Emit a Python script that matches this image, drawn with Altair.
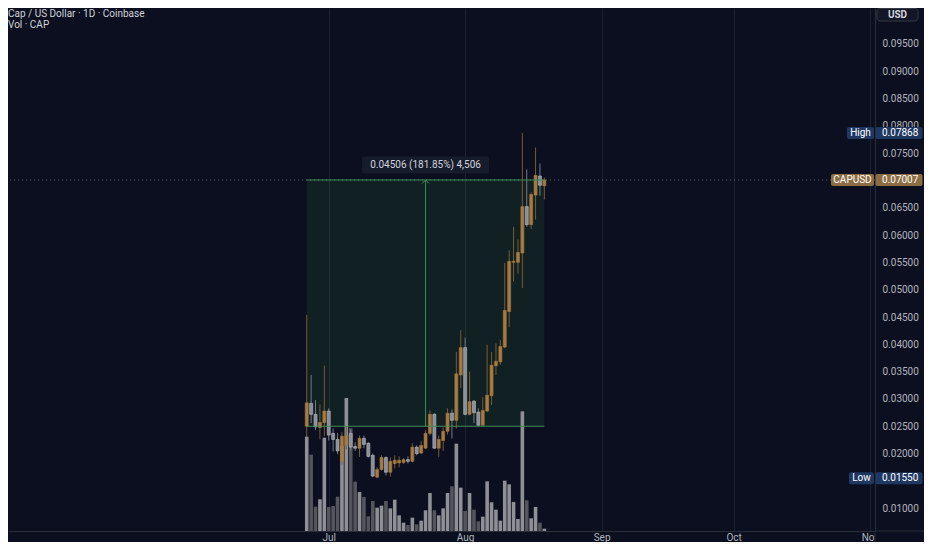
import altair as alt
import pandas as pd

# ---------------- data ----------------
dates = pd.date_range("2025-06-26", periods=55, freq="D")  # daily candles, Jun 26 .. Aug 19

opens = [0.02501, 0.02920, 0.02720, 0.02480, 0.02570, 0.02780, 0.02370, 0.02260, 0.01860, 0.02150,
         0.02370, 0.02130, 0.02100, 0.02280, 0.02190, 0.01970, 0.01570, 0.01710, 0.01930, 0.01660,
         0.01820, 0.01830, 0.01840, 0.01890, 0.01860, 0.02120, 0.02010, 0.02100, 0.02370, 0.02720,
         0.02100, 0.02240, 0.02410, 0.02740, 0.02610, 0.03440, 0.03940, 0.02720, 0.02960, 0.02760,
         0.02520, 0.02780, 0.03060, 0.03610, 0.03680, 0.03950, 0.04600, 0.05500, 0.05500, 0.05670,
         0.06520, 0.06190, 0.06730, 0.07080, 0.06900]
highs = [0.04540, 0.03440, 0.02980, 0.02900, 0.03610, 0.02830, 0.02460, 0.02380, 0.02400, 0.02500,
         0.02440, 0.02210, 0.02330, 0.02330, 0.02210, 0.02000, 0.01750, 0.01970, 0.01950, 0.01930,
         0.01970, 0.01950, 0.01920, 0.01950, 0.02190, 0.02150, 0.02230, 0.02430, 0.02790, 0.02740,
         0.02330, 0.02480, 0.02830, 0.02810, 0.03860, 0.04260, 0.04120, 0.03500, 0.02980, 0.02830,
         0.03030, 0.03990, 0.03860, 0.04020, 0.04080, 0.05490, 0.05720, 0.06150, 0.05920, 0.07868,
         0.07200, 0.06780, 0.07600, 0.07310, 0.07050]
lows = [0.02300, 0.02560, 0.02430, 0.02260, 0.02320, 0.02240, 0.02040, 0.01990, 0.01800, 0.02080,
        0.02060, 0.02050, 0.01940, 0.02100, 0.01930, 0.01570, 0.01550, 0.01690, 0.01600, 0.01580,
        0.01730, 0.01750, 0.01810, 0.01820, 0.01840, 0.01970, 0.02000, 0.02090, 0.02330, 0.02090,
        0.01940, 0.02050, 0.02350, 0.02280, 0.02460, 0.03200, 0.02700, 0.02700, 0.02560, 0.02500,
        0.02510, 0.02760, 0.02890, 0.03440, 0.03620, 0.03930, 0.04320, 0.05150, 0.05290, 0.05030,
        0.06150, 0.06110, 0.06280, 0.06720, 0.06650]
closes = [0.02930, 0.02720, 0.02490, 0.02570, 0.02780, 0.02340, 0.02260, 0.02050, 0.02320, 0.02330,
          0.02120, 0.02100, 0.02280, 0.02170, 0.01950, 0.01590, 0.01710, 0.01930, 0.01660, 0.01860,
          0.01880, 0.01880, 0.01890, 0.01860, 0.02120, 0.02000, 0.02150, 0.02370, 0.02720, 0.02100,
          0.02260, 0.02410, 0.02740, 0.02610, 0.03460, 0.03940, 0.02720, 0.02950, 0.02750, 0.02520,
          0.02790, 0.03070, 0.03620, 0.03690, 0.03960, 0.04620, 0.05520, 0.05520, 0.05680, 0.06520,
          0.06190, 0.06740, 0.07090, 0.06910, 0.07007]
volumes_k = [283, 229, 73, 95, 280, 72, 75, 103, 255, 399,
             308, 148, 117, 102, 44, 90, 70, 76, 90, 68,
             94, 47, 25, 18, 40, 20, 31, 62, 114, 62,
             47, 68, 114, 134, 262, 130, 60, 114, 64, 29,
             43, 149, 86, 64, 31, 151, 140, 87, 36, 359,
             92, 38, 72, 25, 7]

month_ticks = ["2025-07-01", "2025-08-01", "2025-09-01", "2025-10-01", "2025-11-01"]
# 0.015 and 0.070 sit under the Low / CAPUSD tags in the reference
price_ticks = [0.010, 0.020, 0.025, 0.030, 0.035, 0.040, 0.045, 0.050,
               0.055, 0.060, 0.065, 0.075, 0.080, 0.085, 0.090, 0.095]

measure_start = "2025-06-26"
measure_end = "2025-08-19"
measure_low = 0.02501
measure_high = 0.07007
measure_label = "0.04506 (181.85%) 4,506"

last_price = 0.07007
high_price = 0.07868
low_price = 0.01550

title_text = "Cap / US Dollar · 1D · Coinbase"
vol_text = "Vol · CAP"
currency_text = "USD"

# ---------------- style ----------------
BG = "#0b0f1f"
TEXT = "#d1d4dc"
AXIS_TEXT = "#b2b5be"
SEP = "#2a2e39"
GRID = "#1c2031"
UP_BODY, UP_WICK = "#a67a40", "#7a5a32"
DN_BODY, DN_WICK, DN_EDGE = "#8a8e98", "#767983", "#b9bcc4"
VOL_UP, VOL_DN = "#8f9096", "#55565c"
GREEN = "#3c8f55"
TAG_BLUE = "#1f3862"
TAG_BROWN = "#8c6c42"
FONT = "Roboto"

W, H = 867, 523

df = pd.DataFrame({"date": dates, "open": opens, "high": highs, "low": lows,
                   "close": closes, "volume": volumes_k})

start_ts, end_ts = pd.Timestamp(measure_start), pd.Timestamp(measure_end)
box_df = pd.DataFrame({"start": [start_ts], "end": [end_ts],
                       "mid": [start_ts + (end_ts - start_ts) / 2],
                       "low": [measure_low], "high": [measure_high],
                       "label": [measure_label]})

x_domain = [alt.DateTime(year=2025, month=4, date=20, hours=6),
            alt.DateTime(year=2025, month=11, date=1)]
y_domain = [0.00585, 0.10153]
vol_domain = [0, 1569]

xscale = alt.Scale(domain=x_domain)
yscale = alt.Scale(domain=y_domain, nice=False, zero=False)

month_vals = [alt.DateTime(year=t.year, month=t.month, date=t.day)
              for t in pd.to_datetime(month_ticks)]

xaxis = alt.Axis(values=month_vals, format="%b", labelFlush=False, labelOverlap=False,
                 grid=True, gridColor=GRID, gridWidth=1, domainColor=SEP, ticks=False,
                 labelColor=AXIS_TEXT, labelFont=FONT, labelFontSize=10, labelPadding=1,
                 title=None, zindex=0)
yaxis = alt.Axis(orient="right", values=price_ticks, format=".5f", grid=False, ticks=False,
                 domainColor=SEP, labelColor=AXIS_TEXT, labelFont=FONT, labelFontSize=10,
                 labelPadding=7, labelOverlap=False, title=None, zindex=0)


def X(field):
    return alt.X(f"{field}:T", scale=xscale, axis=xaxis, title=None)


def Y(field, axis=yaxis):
    return alt.Y(f"{field}:Q", scale=yscale, axis=axis, title=None)


def updown(up, down):
    return alt.condition("datum.close >= datum.open", alt.value(up), alt.value(down))


# ---------------- layers ----------------
box_fill = alt.Chart(box_df).mark_rect(color="#3a9a40", opacity=0.13).encode(
    x=X("start"), x2="end", y=Y("low", None), y2="high")

volume = alt.Chart(df).mark_bar(size=3.6).encode(
    x=X("date"),
    y=alt.Y("volume:Q", scale=alt.Scale(domain=vol_domain, nice=False, zero=True), axis=None),
    color=updown(VOL_UP, VOL_DN))

wicks = alt.Chart(df).mark_rule(strokeWidth=1).encode(
    x=X("date"), y=Y("low"), y2="high", color=updown(UP_WICK, DN_WICK))

bodies = alt.Chart(df).mark_bar(size=3, strokeWidth=0.6).encode(
    x=X("date"), y=Y("open"), y2="close",
    color=updown(UP_BODY, DN_BODY), stroke=updown(UP_BODY, DN_EDGE))

last_df = pd.DataFrame({"price": [last_price]})
price_line = alt.Chart(last_df).mark_rule(color="#5d606b", strokeDash=[1, 3]).encode(y=Y("price"))

top_line = alt.Chart(box_df).mark_rule(color=GREEN).encode(x=X("start"), x2="end", y=Y("high"))
bottom_line = alt.Chart(box_df).mark_rule(color=GREEN).encode(x=X("start"), x2="end", y=Y("low"))
mid_line = alt.Chart(box_df).mark_rule(color=GREEN).encode(x=X("mid"), y=Y("low"), y2="high")
arrow = alt.Chart(box_df).mark_point(shape="M-1,1L0,0L1,1", filled=False, color=GREEN,
                                     size=50, strokeWidth=1, opacity=1).encode(
    x=X("mid"), y=Y("high"))
label_bg = alt.Chart(box_df).mark_tick(orient="horizontal", size=127, thickness=17,
                                       color="#161c2c", opacity=1, yOffset=-15,
                                       cornerRadius=2).encode(x=X("mid"), y=Y("high"))
label_txt = alt.Chart(box_df).mark_text(dy=-15, color=TEXT, font=FONT, fontSize=10).encode(
    x=X("mid"), y=Y("high"), text="label:N")


def tag(price, name, name_w, fill):
    d = pd.DataFrame({"price": [price], "name": [name], "val": [f"{price:.5f}"]})
    base = alt.Chart(d)
    cx = 866 - name_w / 2
    return [
        base.mark_tick(orient="horizontal", size=name_w, thickness=12, color=fill,
                       opacity=1, cornerRadius=2).encode(x=alt.value(cx), y=Y("price")),
        base.mark_tick(orient="horizontal", size=47, thickness=12, color=fill,
                       opacity=1, cornerRadius=2).encode(x=alt.value(891), y=Y("price")),
        base.mark_text(color="#ffffff", font=FONT, fontSize=10, align="center").encode(
            x=alt.value(cx), y=Y("price"), text="name:N"),
        base.mark_text(color="#ffffff", font=FONT, fontSize=10, align="left").encode(
            x=alt.value(874), y=Y("price"), text="val:N"),
    ]


tags = tag(high_price, "High", 27, TAG_BLUE) + tag(last_price, "CAPUSD", 43, TAG_BROWN) \
    + tag(low_price, "Low", 25, TAG_BLUE)

price_group = alt.layer(wicks, bodies, price_line, top_line, bottom_line, mid_line, arrow,
                        label_bg, label_txt, *tags)

one = pd.DataFrame({"t": [title_text], "v": [vol_text], "c": [currency_text]})
title_mark = alt.Chart(one).mark_text(align="left", baseline="middle", font=FONT,
                                      fontSize=10, color=TEXT).encode(
    x=alt.value(0), y=alt.value(6), text="t:N")
vol_mark = alt.Chart(one).mark_text(align="left", baseline="middle", font=FONT,
                                    fontSize=10, color=TEXT).encode(
    x=alt.value(0), y=alt.value(17), text="v:N")
usd_box = alt.Chart(one).mark_rect(fill="#121626", stroke="#363a45", cornerRadius=3).encode(
    x=alt.value(869), x2=alt.value(910), y=alt.value(0.5), y2=alt.value(13))
usd_txt = alt.Chart(one).mark_text(baseline="middle", font=FONT, fontSize=10,
                                   fontWeight="bold", color=TEXT).encode(
    x=alt.value(889.5), y=alt.value(7), text="c:N")

cover = alt.Chart(one).mark_rect(color=BG).encode(
    x=alt.value(867), x2=alt.value(916), y=alt.value(523.5), y2=alt.value(534))
sep_v = alt.Chart(one).mark_rule(color=SEP).encode(
    x=alt.value(867), y=alt.value(523), y2=alt.value(534))
sep_h = alt.Chart(one).mark_rule(color=SEP).encode(
    x=alt.value(867), x2=alt.value(916), y=alt.value(523))

chart = alt.layer(
    box_fill, volume, price_group, title_mark, vol_mark, usd_box, usd_txt, cover, sep_v, sep_h
).resolve_scale(
    y="independent"
).properties(
    width=W, height=H, background=BG,
    autosize=alt.AutoSizeParams(type="none"),
    padding={"left": 0, "top": 0, "right": 49, "bottom": 11},
).configure_view(strokeWidth=0)

chart.save("out.html", embed_options={"renderer": "svg", "actions": False})
